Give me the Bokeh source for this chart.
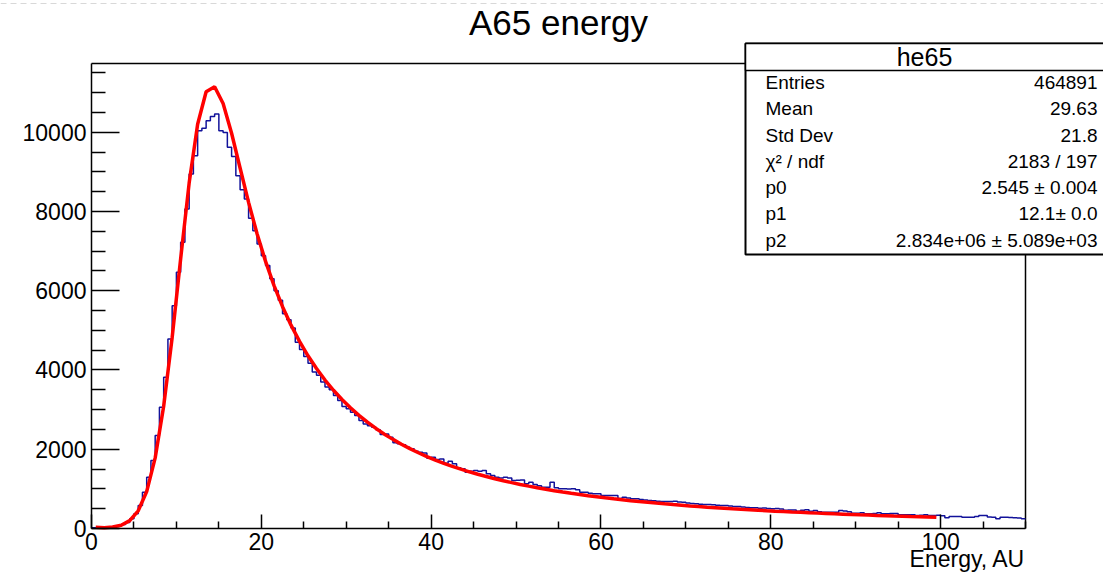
from bokeh.plotting import figure
from bokeh.models import Range1d, FixedTicker, Label, BoxAnnotation, LinearAxis
from bokeh.embed import file_html
from bokeh.resources import INLINE

# ---------------- data ----------------
# histogram "he65": 220 bins of width 0.5 covering 0..110
bin_start = 0.0
bin_width = 0.5
hist_counts = [
    18, 22, 25, 30, 38, 48, 66, 98, 150, 244,
    370, 580, 916, 1294, 1715, 2345, 3059, 3816, 4784, 5624,
    6464, 7221, 8063, 8946, 9407, 10040, 10100, 10290, 10395, 10460,
    10040, 9995, 9620, 9390, 8903, 8550, 8315, 7830, 7516, 7180,
    6885, 6640, 6300, 6000, 5760, 5420, 5270, 5062, 4700, 4520,
    4340, 4170, 3950, 3870, 3700, 3570, 3500, 3354, 3228, 3077,
    3019, 2933, 2850, 2724, 2640, 2590, 2555, 2489, 2371, 2388,
    2303, 2162, 2136, 2111, 2051, 2010, 1950, 1924, 1908, 1773,
    1798, 1740, 1757, 1647, 1697, 1631, 1530, 1505, 1420, 1446,
    1463, 1446, 1463, 1379, 1337, 1294, 1277, 1294, 1277, 1211,
    1215, 1227, 1127, 1168, 1110, 1080, 1042, 1042, 1168, 1026,
    1001, 1001, 995, 1001, 980, 916, 916, 890, 875, 875,
    832, 832, 835, 832, 760, 789, 770, 749, 752, 731,
    720, 706, 700, 689, 681, 681, 680, 690, 668, 660,
    645, 632, 622, 615, 605, 608, 600, 585, 580, 582,
    565, 555, 556, 540, 530, 522, 525, 512, 515, 505,
    497, 502, 490, 458, 470, 466, 437, 460, 471, 437,
    454, 420, 412, 412, 408, 412, 454, 440, 425, 387,
    387, 395, 370, 375, 380, 395, 370, 370, 380, 378,
    345, 345, 348, 350, 328, 335, 345, 330, 328, 336,
    319, 269, 303, 303, 300, 286, 286, 286, 303, 328,
    328, 290, 286, 244, 286, 286, 280, 270, 265, 244,
]

# fit function drawn at x = 0.5, 1.5, ..., 99.5
fit_x_start = 0.5
fit_x_step = 1.0
fit_values = [
    29, 19, 37, 84, 198, 446, 932, 1782, 3083, 4820,
    6807, 8717, 10202, 11023, 11150, 10725, 9974, 9098, 8231, 7439,
    6740, 6130, 5598, 5132, 4721, 4358, 4036, 3747, 3489, 3257,
    3047, 2856, 2683, 2525, 2381, 2249, 2127, 2015, 1912, 1816,
    1728, 1646, 1569, 1498, 1431, 1369, 1311, 1256, 1205, 1157,
    1111, 1069, 1028, 990, 954, 920, 888, 857, 828, 801,
    774, 749, 726, 703, 681, 661, 641, 622, 604, 587,
    570, 554, 539, 525, 511, 497, 484, 472, 460, 448,
    437, 427, 416, 407, 397, 388, 379, 370, 362, 354,
    346, 339, 331, 324, 317, 311, 304, 298, 292, 286,
]

x_ticks = [0, 20, 40, 60, 80, 100]
x_minor_ticks = [5, 10, 15, 25, 30, 35, 45, 50, 55, 65, 70, 75, 85, 90, 95, 105, 110]
y_ticks = [0, 2000, 4000, 6000, 8000, 10000]
y_minor_ticks = [500, 1000, 1500, 2500, 3000, 3500, 4500, 5000, 5500,
                 6500, 7000, 7500, 8500, 9000, 9500, 10500, 11000, 11500]

title_text = "A65 energy"
x_title = "Energy, AU"
stats_name = "he65"
stats_labels = ["Entries", "Mean", "Std Dev", "\u03c7\u00b2 / ndf", "p0", "p1", "p2"]
stats_values = ["464891", "29.63", "21.8", "2183 / 197",
                "2.545 \u00b1 0.004", "12.1\u00b1 0.0", "2.834e+06 \u00b1 5.089e+03"]

# ---------------- layout ----------------
W, H = 1103, 573
L, R, T, B = 91, 78, 63, 45          # plot-area margins inside the canvas (px)
XMAX = 110.0
YMAX = 11735.0
FW, FH = W - L - R, H - T - B
FONT = "Liberation Sans"


def px2x(px):
    return (px - L) / FW * XMAX


def py2y(py):
    return (T + FH - py) / FH * YMAX


# the Bokeh frame covers the whole canvas; the ROOT-style pad is drawn inside it
p = figure(width=W, height=H,
           x_range=Range1d(px2x(0), px2x(W)), y_range=Range1d(py2y(H), py2y(0)),
           x_axis_location=None, y_axis_location=None,
           output_backend="svg", toolbar_location=None,
           min_border_left=0, min_border_right=0, min_border_top=0, min_border_bottom=0)
p.background_fill_color = "white"
p.border_fill_color = "white"
p.outline_line_color = None
p.grid.visible = False

xaxis = LinearAxis(fixed_location=0, bounds=(0, XMAX))
yaxis = LinearAxis(fixed_location=0, bounds=(0, YMAX))
p.add_layout(xaxis, "below")
p.add_layout(yaxis, "left")

for ax, ticks, minor, tin, tmin in ((xaxis, x_ticks, x_minor_ticks, 14, 7),
                                      (yaxis, y_ticks, y_minor_ticks, 28, 14)):
    ax.ticker = FixedTicker(ticks=ticks, minor_ticks=minor)
    ax.major_tick_in = tin
    ax.major_tick_out = 0
    ax.minor_tick_in = tmin
    ax.minor_tick_out = 0
    ax.axis_line_color = "black"
    ax.axis_line_width = 1.5
    ax.major_tick_line_color = "black"
    ax.major_tick_line_width = 1.5
    ax.minor_tick_line_color = "black"
    ax.minor_tick_line_width = 1.5
    ax.major_label_text_font = FONT
    ax.major_label_text_font_size = "23px"
    ax.major_label_text_color = "black"
xaxis.major_label_standoff = 4
yaxis.major_label_standoff = 5

# faint dashed line at the very top of the page
p.line([px2x(0), px2x(W)], [py2y(3), py2y(3)], line_color="#d8d8d8",
       line_width=1, line_dash="6 4")

# frame (top and right edges of the pad)
p.line([0, XMAX, XMAX], [YMAX, YMAX, 0], line_color="black", line_width=1.5)

# histogram outline
edges = [bin_start + bin_width * i for i in range(len(hist_counts) + 1)]
p.step(edges, hist_counts + [hist_counts[-1]], mode="after",
       line_color="#12129a", line_width=1.5)

# fit curve
fit_x = [fit_x_start + fit_x_step * i for i in range(len(fit_values))]
p.line(fit_x, fit_values, line_color="#ff0000", line_width=3.5)

# title and axis title
p.add_layout(Label(x=px2x(558), y=py2y(22), text=title_text, text_font=FONT,
                   text_font_size="35px", text_align="center", text_baseline="middle",
                   text_color="black"))
p.add_layout(Label(x=XMAX, y=py2y(558), text=x_title, text_font=FONT,
                   text_font_size="23px", text_align="right", text_baseline="middle",
                   text_color="black"))

# statistics box
box_left, box_right, box_top, box_bottom, head_bottom = 745, 1112, 43, 254, 70
p.add_layout(BoxAnnotation(left=px2x(box_left), right=px2x(box_right),
                           top=py2y(box_top), bottom=py2y(box_bottom),
                           fill_color="white", fill_alpha=1.0,
                           line_color="black", line_width=2, line_alpha=1.0))
p.add_layout(BoxAnnotation(left=px2x(box_left), right=px2x(box_right),
                           top=py2y(box_top), bottom=py2y(head_bottom),
                           fill_color="white", fill_alpha=1.0,
                           line_color="black", line_width=1.5, line_alpha=1.0))
p.add_layout(Label(x=px2x(924), y=py2y(56), text=stats_name, text_font=FONT,
                   text_font_size="25px", text_align="center", text_baseline="middle",
                   text_color="black"))
row_y = [82, 108, 134.5, 160.5, 186.5, 213, 239.5]
for lab, val, ry in zip(stats_labels, stats_values, row_y):
    p.add_layout(Label(x=px2x(765), y=py2y(ry), text=lab, text_font=FONT,
                       text_font_size="19px", text_align="left", text_baseline="middle",
                       text_color="black"))
    p.add_layout(Label(x=px2x(1097), y=py2y(ry), text=val, text_font=FONT,
                       text_font_size="19px", text_align="right", text_baseline="middle",
                       text_color="black"))

open("out.html", "w").write(file_html(p, INLINE))
